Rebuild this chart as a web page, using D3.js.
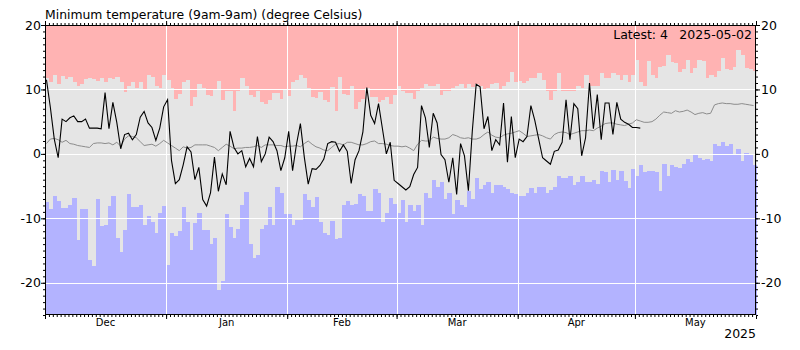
<!DOCTYPE html>
<html><head><meta charset="utf-8">
<script src="https://cdn.jsdelivr.net/npm/d3@7"></script>
<style>body{margin:0;background:#fff} svg{display:block} text{font-family:"DejaVu Sans",sans-serif;fill:#000}</style>
</head><body><svg id="c" width="800" height="350"></svg>
<script>
const startDate = "2024-12-01";
const endDate = "2025-06-01";
const titleText = "Minimum temperature (9am-9am) (degree Celsius)";
const latestValue = 4;
const latestDate = "2025-05-02";
const yearLabel = "2025";
const yMajorTicks = [-20, -10, 0, 10, 20];
const monthLabels = ["Dec", "Jan", "Feb", "Mar", "Apr", "May"];

// Record highest minimum per day (top of grey band)
const recordHigh = [
 11.8,11.1,12.3,10.9,12.1,11.6,11.9,11.1,10.6,10.9,
 11.6,11.8,11.6,11.3,11.8,11.1,11.8,11.6,12.0,11.1,
 9.6,10.5,11.1,10.3,11.1,10.1,12.2,11.9,10.5,10.3,
 12.3,11.4,10.3,8.5,9.3,11.1,11.5,7.4,8.8,10.8,
 10.3,9.2,9.0,10.1,11.3,8.3,9.7,9.7,6.6,9.7,
 11.8,10.5,9.1,8.8,9.8,8.0,7.8,8.3,9.4,9.4,
 8.5,9.9,9.0,11.1,11.4,12.2,11.8,10.3,8.8,8.7,
 9.6,8.3,8.0,10.4,6.7,11.9,9.3,9.1,10.5,7.0,
 8.0,8.5,10.3,8.8,8.8,8.0,8.3,8.8,7.8,9.2,
 10.5,9.7,9.4,9.4,8.5,9.7,10.3,10.9,10.5,10.5,
 10.9,9.2,9.8,9.8,10.3,10.5,10.9,10.3,10.9,10.4,
 10.9,10.5,9.9,10.3,10.9,11.0,10.1,10.5,11.1,12.7,
 11.1,11.3,11.0,11.3,11.8,11.8,12.5,11.5,9.8,8.4,
 9.8,12.5,9.7,9.7,9.7,9.8,10.5,10.3,12.2,10.6,
 10.6,10.6,12.5,11.7,11.7,12.5,12.3,11.4,12.3,11.1,
 12.3,14.6,11.1,10.6,14.4,12.3,11.8,13.5,13.6,15.4,
 14.2,14.1,12.7,13.1,14.5,12.5,13.4,14.6,14.4,11.7,
 12.3,12.0,12.8,14.9,13.1,13.0,13.5,16.1,15.4,13.4,
 13.2,12.8
];
// Record lowest minimum per day (bottom of grey band)
const recordLow = [
 -7.4,-8.6,-6.6,-7.3,-8.4,-8.4,-8.0,-6.8,-13.4,-8.5,
 -8.6,-16.4,-17.4,-7.0,-11.2,-11.1,-8.1,-6.6,-13.1,-15.2,
 -11.8,-6.2,-8.3,-8.3,-8.0,-11.0,-9.7,-10.6,-12.3,-9.2,
 -8.1,-17.2,-12.3,-12.8,-11.9,-8.3,-10.6,-14.9,-10.8,-9.2,
 -11.8,-11.8,-14.0,-13.0,-21.1,-19.8,-9.3,-11.4,-13.0,-11.7,
 -7.9,-5.9,-14.0,-16.1,-15.7,-11.7,-11.1,-8.3,-11.1,-5.2,
 -6.0,-9.3,-9.3,-11.1,-10.3,-10.3,-6.2,-7.2,-8.3,-6.7,
 -10.5,-12.3,-12.6,-10.4,-13.2,-13.1,-8.0,-7.3,-7.9,-7.8,
 -6.2,-6.5,-8.8,-8.8,-5.4,-6.0,-10.6,-9.1,-6.9,-7.8,
 -9.1,-7.2,-10.6,-7.9,-8.9,-7.9,-11.1,-6.0,-6.8,-4.1,
 -5.2,-4.3,-7.0,-6.1,-9.4,-7.2,-7.9,-8.3,-5.7,-7.0,
 -3.7,-5.4,-4.9,-4.4,-6.0,-4.9,-4.9,-5.1,-5.4,-6.1,
 -6.2,-6.5,-6.6,-6.1,-5.3,-6.1,-5.1,-5.1,-6.1,-5.6,
 -5.1,-3.5,-3.7,-3.7,-3.4,-4.8,-4.4,-3.5,-4.4,-4.4,
 -4.1,-4.6,-2.6,-2.8,-4.4,-2.5,-4.0,-2.7,-4.2,-5.3,
 -2.3,-3.4,-1.8,-2.8,-2.7,-2.7,-2.8,-5.7,-1.6,-3.5,
 -1.7,-2.0,-2.2,-1.5,-0.8,-1.3,-0.2,-0.6,-0.9,-0.8,
 -1.1,1.5,1.3,1.9,1.3,1.5,0.0,0.7,-1.1,0.1,
 0.0,-1.8
];
// Long-term mean minimum per day
const meanMin = [
 1.6,2.3,2.4,2.2,1.8,2.1,1.6,1.5,1.3,1.2,
 1.1,1.0,1.6,1.7,1.7,1.6,1.7,1.4,1.8,1.2,
 2.3,2.8,2.7,2.5,1.9,1.3,1.4,1.5,1.2,1.6,
 2.1,1.7,1.3,0.9,0.5,1.1,0.9,1.0,1.4,1.4,
 1.4,1.4,1.2,1.0,0.5,1.0,1.5,1.2,0.8,0.9,
 0.9,1.0,1.0,1.1,1.3,1.0,1.4,1.4,1.4,1.3,
 1.3,1.1,1.2,1.2,1.3,1.1,1.6,2.0,1.5,1.1,
 0.9,0.6,0.5,1.0,1.5,1.6,1.4,1.8,1.8,1.6,
 1.4,1.4,1.6,1.9,2.0,1.6,1.6,1.5,1.3,1.2,
 1.2,1.1,1.2,0.9,0.5,1.5,2.1,2.0,2.0,2.6,
 2.4,2.3,2.3,2.5,3.0,2.8,2.5,2.4,2.5,2.3,
 2.3,2.5,3.0,3.4,2.9,2.6,2.5,2.9,3.1,3.2,
 3.4,3.6,3.2,2.7,2.8,2.9,3.0,2.8,2.5,2.3,
 3.0,3.3,3.4,3.3,3.0,3.2,3.4,3.6,3.6,3.7,
 3.6,4.0,4.3,4.7,4.8,4.8,4.6,4.5,4.4,4.6,
 4.8,5.3,5.1,4.9,4.9,5.0,5.4,6.0,6.5,6.4,
 6.3,6.7,6.5,6.6,6.8,6.5,6.1,6.3,6.4,6.2,
 6.3,7.6,7.8,7.9,7.8,7.8,7.7,7.7,7.8,7.7,
 7.6,7.5
];
// Observed minimum temperature, 2024-12-01 .. 2025-05-02
const observed = [
 11.5,7.2,2.3,-0.6,5.4,5.0,5.6,5.9,5.0,5.0,
 5.4,4.0,4.0,4.0,3.9,9.5,3.9,8.0,4.9,0.8,
 3.0,3.2,2.2,3.0,5.7,6.6,4.8,4.1,2.1,4.0,
 7.3,8.4,-1.0,-4.6,-4.0,-1.7,1.1,0.3,-4.0,-2.1,
 -7.1,-8.1,-6.0,-0.5,-5.8,-3.1,-4.8,3.5,1.0,0.0,
 0.5,-2.0,-0.7,-2.0,2.7,-1.2,0.0,2.6,1.9,0.5,
 -2.6,-0.6,3.5,-2.6,1.5,4.7,-0.5,-4.7,-2.3,-2.4,
 -1.8,-0.8,1.6,1.9,1.8,0.4,1.4,0.4,-4.6,-0.9,
 0.5,3.4,10.3,6.0,4.7,7.8,3.9,0.0,1.8,-4.1,
 -4.6,-5.1,-5.6,-5.1,-3.2,-2.1,7.5,5.6,1.0,6.3,
 4.8,-0.1,-0.9,-4.4,-0.6,-6.3,1.6,-0.3,-5.7,3.5,
 10.8,10.4,3.9,5.8,0.5,2.2,1.4,7.9,-1.3,5.8,
 -0.6,2.3,1.9,2.7,7.5,5.2,2.3,-0.6,-1.1,-1.6,
 0.4,0.6,1.8,8.4,2.2,7.8,7.0,-0.3,2.5,11.0,
 3.9,9.2,2.2,7.9,7.9,3.0,8.0,5.4,4.9,4.6,
 4.1,4.1,4.0
];

const svg = d3.select("#c");
const parse = d3.utcParse("%Y-%m-%d");
const t0 = parse(startDate), t1 = parse(endDate);
const days = d3.utcDay.range(t0, t1);
const L = 45, R = 756, T = 25, B = 315;
const x = d3.scaleUtc().domain([t0, t1]).range([L, R]);
const y = d3.scaleLinear().domain([-25, 20]).range([B, T]);
const xr = d => x(d3.utcHour.offset(d, 9)); // 9am reading time

const plot = svg.append("g");
plot.append("rect").attr("x", L).attr("y", T).attr("width", R - L).attr("height", B - T).attr("fill", "#ffb3b3");

const dayData = days.map((d, i) => ({d, hi: recordHigh[i], lo: recordLow[i]}));
plot.append("g").attr("shape-rendering", "crispEdges").selectAll("rect").data(dayData).join("rect")
  .attr("x", v => x(v.d)).attr("width", v => x(d3.utcDay.offset(v.d, 1)) - x(v.d) + 0.5)
  .attr("y", v => y(v.hi)).attr("height", v => y(v.lo) - y(v.hi)).attr("fill", "#e5e5e5");
plot.append("g").attr("shape-rendering", "crispEdges").selectAll("rect").data(dayData).join("rect")
  .attr("x", v => x(v.d)).attr("width", v => x(d3.utcDay.offset(v.d, 1)) - x(v.d) + 0.5)
  .attr("y", v => y(v.lo)).attr("height", v => y(-25) - y(v.lo)).attr("fill", "#b3b3ff");

// grid
const grid = plot.append("g").attr("stroke", "#fff").attr("stroke-width", 1).attr("shape-rendering", "crispEdges");
grid.selectAll("line.h").data(yMajorTicks.filter(v => v < 20)).join("line")
  .attr("x1", L).attr("x2", R).attr("y1", v => Math.round(y(v)) + 0.5).attr("y2", v => Math.round(y(v)) + 0.5);
const months = d3.utcMonth.range(t0, t1);
grid.selectAll("line.v").data(months.slice(1)).join("line")
  .attr("y1", T).attr("y2", B).attr("x1", v => Math.round(x(v)) + 0.5).attr("x2", v => Math.round(x(v)) + 0.5);

// mean line
plot.append("path").datum(days).attr("fill", "none").attr("stroke", "#8c8c8c").attr("stroke-width", 1)
  .attr("d", d3.line().x(d => xr(d)).y((d, i) => y(meanMin[i])));
// observed line
plot.append("path").datum(days.slice(0, observed.length)).attr("fill", "none").attr("stroke", "#000").attr("stroke-width", 1.1)
  .attr("d", d3.line().x(d => xr(d)).y((d, i) => y(observed[i])));

// axes
const fmt = d => String(d);
const yMinor = d3.range(-25, 21);
function styleAxis(g) { g.select(".domain").remove(); g.selectAll("line").attr("stroke", "#000"); g.selectAll("text").style("font-family", "'DejaVu Sans',sans-serif"); }
svg.append("g").attr("transform", `translate(${L},0)`).call(d3.axisLeft(y).tickValues(yMinor).tickSize(2).tickFormat("")).call(styleAxis);
svg.append("g").attr("transform", `translate(${L},0)`).call(d3.axisLeft(y).tickValues(yMajorTicks).tickSize(4).tickPadding(0).tickFormat(fmt)).call(styleAxis).selectAll("text").style("font-size", "12.5px");
svg.append("g").attr("transform", `translate(${R},0)`).call(d3.axisRight(y).tickValues(yMinor).tickSize(2).tickFormat("")).call(styleAxis);
svg.append("g").attr("transform", `translate(${R},0)`).call(d3.axisRight(y).tickValues(yMajorTicks).tickSize(4).tickPadding(1).tickFormat(fmt)).call(styleAxis).selectAll("text").style("font-size", "12.5px");
svg.append("g").attr("transform", `translate(0,${B})`).call(d3.axisBottom(x).tickValues(days).tickSize(2).tickFormat("")).call(styleAxis);
svg.append("g").attr("transform", `translate(0,${B})`).call(d3.axisBottom(x).tickValues(months.concat([t1])).tickSize(4).tickFormat("")).call(styleAxis);
svg.append("g").attr("transform", `translate(0,${T})`).call(d3.axisTop(x).tickValues(days).tickSize(2).tickFormat("")).call(styleAxis);
svg.append("g").attr("transform", `translate(0,${T})`).call(d3.axisTop(x).tickValues(months.concat([t1])).tickSize(4).tickFormat("")).call(styleAxis);
// frame
svg.append("rect").attr("x", L + 0.5).attr("y", T + 0.5).attr("width", R - L - 1).attr("height", B - T - 1)
  .attr("fill", "none").attr("stroke", "#000").attr("stroke-width", 1);

// month labels
svg.append("g").selectAll("text").data(months).join("text")
  .attr("x", (m, i) => (x(m) + x(d3.utcMonth.offset(m, 1))) / 2).attr("y", 326)
  .attr("text-anchor", "middle").style("font-size", "10px").text((m, i) => monthLabels[i]);
svg.append("text").attr("x", R).attr("y", 338).attr("text-anchor", "end").style("font-size", "12.5px").text(yearLabel);
svg.append("text").attr("x", L).attr("y", 19).style("font-size", "12.4px").text(titleText);
svg.append("text").attr("x", 668).attr("y", 39).attr("text-anchor", "end").style("font-size", "12.5px").text("Latest: " + latestValue);
svg.append("text").attr("x", 752).attr("y", 39).attr("text-anchor", "end").style("font-size", "12.5px").text(latestDate);
</script></body></html>
